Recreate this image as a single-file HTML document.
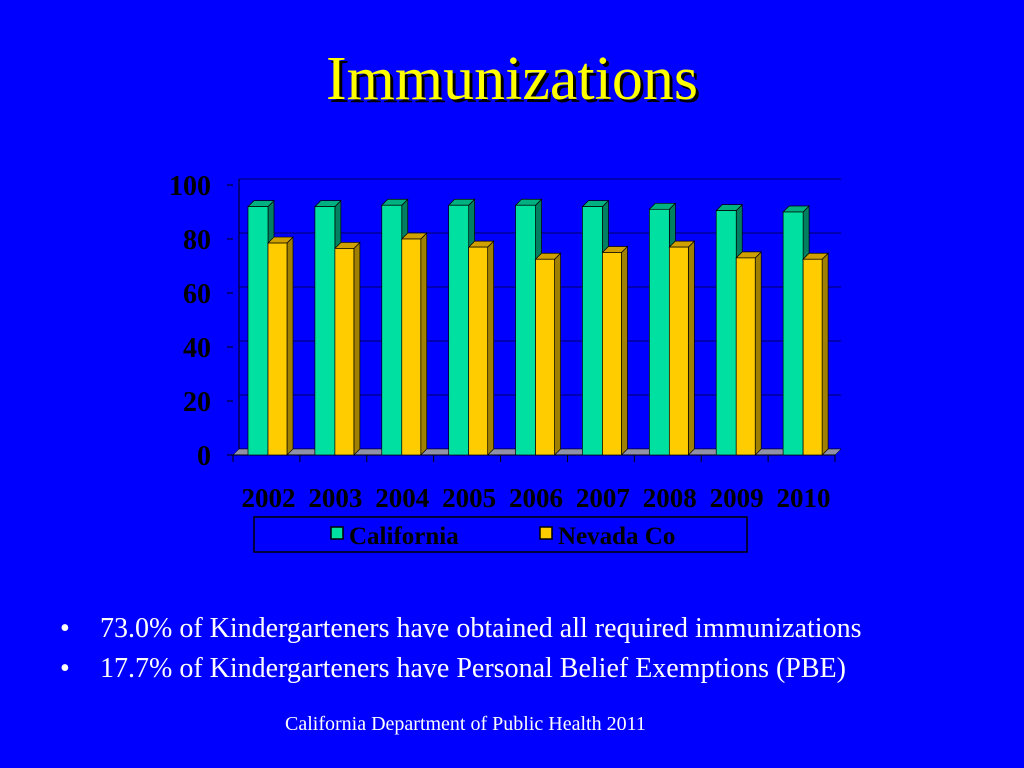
<!DOCTYPE html>
<html><head><meta charset="utf-8"><style>
body{margin:0;width:1024px;height:768px;background:#0000ff;overflow:hidden;font-family:"Liberation Serif",serif;position:relative}
.t{position:absolute;white-space:nowrap}
</style></head><body>
<div class="t" style="left:0;width:1024px;text-align:center;top:44px;font-size:62px;color:#ffff00;text-shadow:3px 3px 0 #000">Immunizations</div>
<svg id="chart" width="1024" height="768" style="position:absolute;left:0;top:0"></svg>
<div class="t" style="left:60px;top:613px;font-size:28px;color:#fff"><span style="display:inline-block;width:40px">•</span>73.0% of Kindergarteners have obtained all required immunizations</div>
<div class="t" style="left:60px;top:653px;font-size:28px;color:#fff"><span style="display:inline-block;width:40px">•</span>17.7% of Kindergarteners have Personal Belief Exemptions (PBE)</div>
<div class="t" style="left:285px;top:713px;font-size:20px;color:#fff">California Department of Public Health 2011</div>
<script>
const years=["2002","2003","2004","2005","2006","2007","2008","2009","2010"];
const california=[92,92,92.5,92.5,92.5,92,91,90.5,90];
const nevada=[78.5,76.5,80,77,72.5,75,77,73,72.5];
const yTicks=[0,20,40,60,80,100];
const NS="http://www.w3.org/2000/svg";
const svg=document.getElementById('chart');
const x0=233,x1=835,y0=455,yTop=185,D=6;
const gw=(x1-x0)/years.length;
const y=v=>y0-(v/100)*(y0-yTop);
function mk(tag,attrs,parent){const e=document.createElementNS(NS,tag);for(const k in attrs)e.setAttribute(k,attrs[k]);(parent||svg).appendChild(e);return e;}
yTicks.forEach(v=>{
 const l=mk('line',{x1:x0+D,x2:x1+D,y1:y(v)-D,y2:y(v)-D,stroke:'#000',"stroke-width":1,opacity:0.6});
 
 
 const t=mk('text',{x:x0-22,y:y(v)+10,"text-anchor":"end","font-size":28,"font-weight":"bold","font-family":"Liberation Serif, serif",fill:'#000'});
 t.textContent=v;
 
 
 mk('line',{x1:x0-6,x2:x0,y1:y(v),y2:y(v),stroke:'#000'});
});
mk('line',{x1:x0+D,x2:x0+D,y1:y(100)-D,y2:y(0)-D,stroke:'#000'});
const fl=mk('polygon',{points:`${x0},${y0} ${x1},${y0} ${x1+D},${y0-D} ${x0+D},${y0-D}`,fill:'#9090a8',stroke:'#000',"stroke-width":0.5});


mk('line',{x1:x0,x2:x1,y1:y0,y2:y0,stroke:'#000'});
function bar(xl,w,v,front,side,top,name){
 const g=mk('g',{});
 
 
 const yt=y(v);
 mk('polygon',{points:`${xl+w},${y0} ${xl+w+D},${y0-D} ${xl+w+D},${yt-D} ${xl+w},${yt}`,fill:side,stroke:'#000',"stroke-width":0.7},g);
 mk('polygon',{points:`${xl},${yt} ${xl+D},${yt-D} ${xl+w+D},${yt-D} ${xl+w},${yt}`,fill:top,stroke:'#000',"stroke-width":0.7},g);
 mk('rect',{x:xl,y:yt,width:w,height:y0-yt,fill:front,stroke:'#000',"stroke-width":0.7},g);
}
years.forEach((yr,i)=>{
 const gx=x0+i*gw;
 bar(gx+15,20,california[i],'#00e0a0','#008060','#00b080','bar-california-'+yr);
 bar(gx+35,19,nevada[i],'#ffcc00','#a08000','#d0a000','bar-nevada-'+yr);
 mk('line',{x1:gx,x2:gx,y1:y0,y2:y0+7,stroke:'#000'});
 const t=mk('text',{x:gx+gw/2+2,y:507,"text-anchor":"middle","font-size":27,"font-weight":"bold","font-family":"Liberation Serif, serif",fill:'#000'});
 t.textContent=yr;
 
 
});
mk('line',{x1:x1,x2:x1,y1:y0,y2:y0+7,stroke:'#000'});
const lg=mk('g',{});


mk('rect',{x:254,y:517,width:493,height:35,fill:'none',stroke:'#000',"stroke-width":1.5},lg);
mk('rect',{x:331,y:527,width:12,height:12,fill:'#00e0a0',stroke:'#000',"stroke-width":1.5},lg);
mk('rect',{x:540,y:527,width:12,height:12,fill:'#ffcc00',stroke:'#000',"stroke-width":1.5},lg);
const l1=mk('text',{x:349,y:544,"font-size":25,"font-weight":"bold","font-family":"Liberation Serif, serif",fill:'#000'},lg);l1.textContent='California';


const l2=mk('text',{x:558,y:544,"font-size":25,"font-weight":"bold","font-family":"Liberation Serif, serif",fill:'#000'},lg);l2.textContent='Nevada Co';


</script>
</body></html>
